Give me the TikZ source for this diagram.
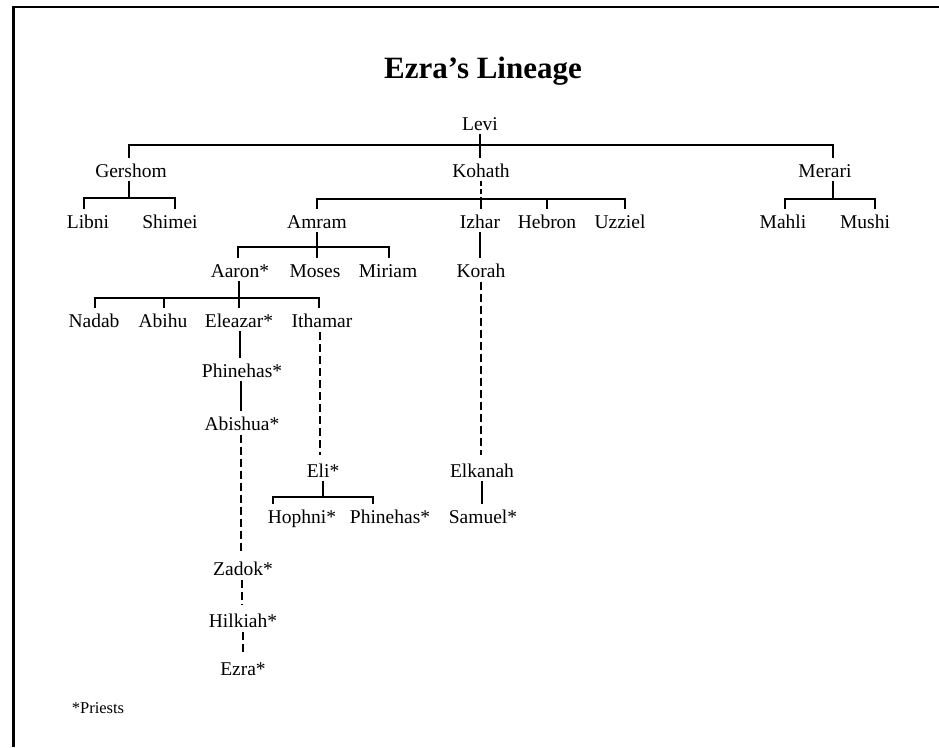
\documentclass[tikz,border=0pt]{standalone}
\usepackage{fontspec}
\setmainfont{Liberation Serif}
\begin{document}
\begin{tikzpicture}[x=1pt,y=-1pt,
  nm/.style={anchor=base,inner xsep=0pt,inner ysep=4pt,text height=15pt,text depth=0pt,font=\fontsize{19.5}{22}\selectfont},
  ln/.style={line width=2pt},
  dl/.style={line width=2pt,dash pattern=on 8pt off 4pt,shorten <=1pt,shorten >=3pt},
  frame/.style={line width=2.6pt}]
\useasboundingbox (0,0) rectangle (939,747);
% frame
\draw[frame] (939,7) -- (13.5,7) -- (13.5,747);
% title
\node[anchor=base,font=\fontsize{31}{36}\selectfont\bfseries] (title) at (483,78) {Ezra’s Lineage};
% nodes
\node[nm] (levi) at (480,130) {Levi};
\node[nm] (gershom) at (131,177) {Gershom};
\node[nm] (kohath) at (481,177) {Kohath};
\node[nm] (merari) at (825,177) {Merari};
\node[nm] (libni) at (88,228) {Libni};
\node[nm] (shimei) at (170,228) {Shimei};
\node[nm] (amram) at (317,228) {Amram};
\node[nm] (izhar) at (480,228) {Izhar};
\node[nm] (hebron) at (547,228) {Hebron};
\node[nm] (uzziel) at (620,228) {Uzziel};
\node[nm] (mahli) at (783,228) {Mahli};
\node[nm] (mushi) at (865,228) {Mushi};
\node[nm] (aaron) at (240,277) {Aaron*};
\node[nm] (moses) at (315,277) {Moses};
\node[nm] (miriam) at (388,277) {Miriam};
\node[nm] (korah) at (481,277) {Korah};
\node[nm] (nadab) at (94,327) {Nadab};
\node[nm] (abihu) at (163,327) {Abihu};
\node[nm] (eleazar) at (239,327) {Eleazar*};
\node[nm] (ithamar) at (322,327) {Ithamar};
\node[nm] (phinehasA) at (242,377) {Phinehas*};
\node[nm] (abishua) at (242,430) {Abishua*};
\node[nm] (eli) at (323,477) {Eli*};
\node[nm] (elkanah) at (482,477) {Elkanah};
\node[nm] (hophni) at (302,523) {Hophni*};
\node[nm] (phinehasB) at (390,523) {Phinehas*};
\node[nm] (samuel) at (483,523) {Samuel*};
\node[nm] (zadok) at (243,575) {Zadok*};
\node[nm] (hilkiah) at (243,627) {Hilkiah*};
\node[nm] (ezra) at (243,675) {Ezra*};
\node[anchor=base,inner sep=0pt,font=\fontsize{16.5}{19}\selectfont] (priests) at (98,713) {*Priests};
% bar levels
\coordinate (yLevi) at (0,145);
\coordinate (yG) at (0,198);
\coordinate (yK) at (0,199);
\coordinate (yM) at (0,199);
\coordinate (yAm) at (0,247);
\coordinate (yAa) at (0,298);
\coordinate (yEli) at (0,497);
% ends of the ticks
\coordinate (tGer) at ([xshift=-2pt]gershom.north);
\coordinate (tMer) at ([xshift=8pt]merari.north);
\coordinate (tLib) at ([xshift=-4pt]libni.north);
\coordinate (tShi) at ([xshift=5pt]shimei.north);
\coordinate (tUzz) at ([xshift=5pt]uzziel.north);
\coordinate (tMah) at ([xshift=2pt]mahli.north);
\coordinate (tMus) at ([xshift=10pt]mushi.north);
\coordinate (tAar) at ([xshift=-2pt]aaron.north);
\coordinate (tMir) at ([xshift=1pt]miriam.north);
\coordinate (tNad) at ([xshift=1pt]nadab.north);
\coordinate (tAbi) at ([xshift=1pt]abihu.north);
\coordinate (tIth) at ([xshift=-3pt]ithamar.north);
\coordinate (tHop) at ([xshift=-29pt]hophni.north);
\coordinate (tPhB) at ([xshift=-17pt]phinehasB.north);
% Levi
\draw[ln] (levi.south) -- (levi.south |- kohath.north);
\draw[ln] (tGer) -- (tGer |- yLevi) -- (tMer |- yLevi) -- (tMer);
% Gershom
\draw[ln] ([xshift=-2pt]gershom.south) -- ([xshift=-2pt]gershom.south |- yG);
\draw[ln] (tLib) -- (tLib |- yG) -- (tShi |- yG) -- (tShi);
% Kohath
\draw[line width=2pt,dash pattern=on 5pt off 3pt] (kohath.south) -- (kohath.south |- yK);
\draw[ln] (kohath.south |- yK) -- (kohath.south |- izhar.north);
\draw[ln] (amram.north) -- (amram.north |- yK) -- (tUzz |- yK) -- (tUzz);
\draw[ln] (hebron.north) -- (hebron.north |- yK);
% Merari
\draw[ln] ([xshift=8pt]merari.south) -- ([xshift=8pt]merari.south |- yM);
\draw[ln] (tMah) -- (tMah |- yM) -- (tMus |- yM) -- (tMus);
% Amram
\draw[ln] (amram.south) -- (amram.south |- moses.north);
\draw[ln] (tAar) -- (tAar |- yAm) -- (tMir |- yAm) -- (tMir);
% Izhar line
\draw[ln] (izhar.south) -- (izhar.south |- korah.north);
\draw[dl] (korah.south) -- (korah.south |- elkanah.north);
\draw[ln] (elkanah.south) -- (elkanah.south |- samuel.north);
% Aaron
\draw[ln] ([xshift=-1pt]aaron.south) -- ([xshift=-1pt]aaron.south |- eleazar.north);
\draw[ln] (tNad) -- (tNad |- yAa) -- (tIth |- yAa) -- (tIth);
\draw[ln] (tAbi) -- (tAbi |- yAa);
% Eleazar line
\draw[ln] ([xshift=1pt]eleazar.south) -- ([xshift=1pt]eleazar.south |- phinehasA.north);
\draw[ln] ([xshift=-1pt]phinehasA.south) -- ([xshift=-1pt]phinehasA.south |- abishua.north);
\draw[dl] ([xshift=-1pt]abishua.south) -- ([xshift=-1pt]abishua.south |- zadok.north);
\draw[dl] ([xshift=-1pt]zadok.south) -- ([xshift=-1pt]zadok.south |- hilkiah.north);
\draw[dl] (hilkiah.south) -- (hilkiah.south |- ezra.north);
% Ithamar line
\draw[dl] ([xshift=-2pt]ithamar.south) -- ([xshift=-2pt]ithamar.south |- eli.north);
\draw[ln] (eli.south) -- (eli.south |- yEli);
\draw[ln] (tHop) -- (tHop |- yEli) -- (tPhB |- yEli) -- (tPhB);
\end{tikzpicture}
\end{document}
